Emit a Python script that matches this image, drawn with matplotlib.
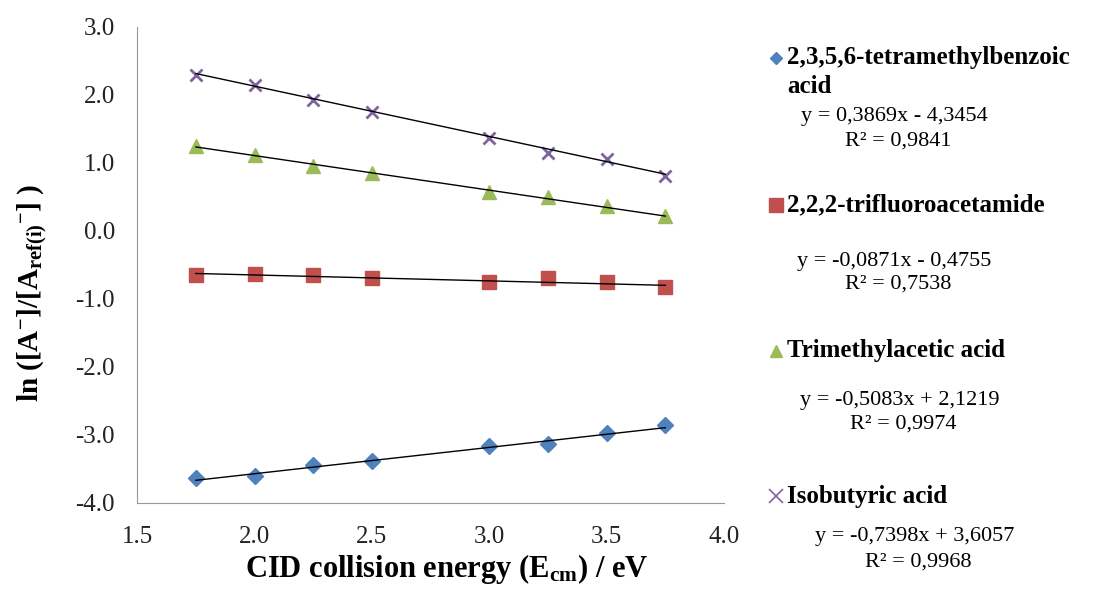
import numpy as np
import matplotlib
matplotlib.use("Agg")
import matplotlib.pyplot as plt

plt.rcParams["font.family"] = ["Liberation Serif", "DejaVu Serif"]
plt.rcParams["mathtext.fontset"] = "custom"
plt.rcParams["mathtext.rm"] = "Liberation Serif:bold"
plt.rcParams["mathtext.it"] = "Liberation Serif:bold"
plt.rcParams["mathtext.bf"] = "Liberation Serif:bold"

# collision energies (eV)
energy = [1.75, 2.0, 2.25, 2.5, 3.0, 3.25, 3.5, 3.75]

# ln ratios
tetramethylbenzoic = [-3.63, -3.60, -3.44, -3.39, -3.16, -3.13, -2.98, -2.86]
trifluoroacetamide = [-0.65, -0.63, -0.65, -0.69, -0.76, -0.70, -0.76, -0.83]
trimethylacetic = [1.24, 1.11, 0.95, 0.85, 0.57, 0.49, 0.36, 0.22]
isobutyric = [2.29, 2.14, 1.92, 1.75, 1.37, 1.15, 1.06, 0.81]

names = ["2,3,5,6-tetramethylbenzoic\nacid", "2,2,2-trifluoroacetamide",
         "Trimethylacetic acid", "Isobutyric acid"]
equations = ["y = 0,3869x - 4,3454", "y = -0,0871x - 0,4755",
             "y = -0,5083x + 2,1219", "y = -0,7398x + 3,6057"]
r2_labels = ["R\u00b2 = 0,9841", "R\u00b2 = 0,7538",
             "R\u00b2 = 0,9974", "R\u00b2 = 0,9968"]
slopes = [0.3869, -0.0871, -0.5083, -0.7398]
intercepts = [-4.3454, -0.4755, 2.1219, 3.6057]

series = [tetramethylbenzoic, trifluoroacetamide, trimethylacetic, isobutyric]
colors = ["#4F81BD", "#C0504D", "#9BBB59", "#8064A2"]
markers = ["D", "s", "^", "x"]
msizes = [8.5, 10.5, 10.5, 9]

fig = plt.figure(figsize=(10.97, 5.93), dpi=100)
ax = fig.add_axes([0.125, 0.152, 0.535, 0.803])

x = np.array(energy)
for ys, c, m, ms, k, b in zip(series, colors, markers, msizes, slopes, intercepts):
    ax.plot(x, k * x + b, color="black", lw=1.0, zorder=3)
    if m == "x":
        ax.plot(x, ys, ls="none", marker=m, ms=ms, mew=2, color=c, zorder=2)
    else:
        ax.plot(x, ys, ls="none", marker=m, ms=ms, color=c, mec=c, zorder=2)

ax.set_xlim(1.5, 4.0)
ax.set_ylim(-4.0, 3.0)
ax.set_xticks(np.arange(1.5, 4.01, 0.5))
ax.set_yticks(np.arange(-4.0, 3.01, 1.0))
ax.xaxis.set_major_formatter(matplotlib.ticker.FormatStrFormatter("%.1f"))
ax.yaxis.set_major_formatter(matplotlib.ticker.FormatStrFormatter("%.1f"))
ax.tick_params(length=0, labelsize=18, colors="#222222")
ax.tick_params(axis="x", pad=17)
ax.tick_params(axis="y", pad=16)
for s in ["top", "right"]:
    ax.spines[s].set_visible(False)
for s in ["left", "bottom"]:
    ax.spines[s].set_color("#999999")

ax.set_xlabel(r"CID collision energy (E$_{\mathrm{cm}}$) / eV",
              fontsize=22, fontweight="bold")
ax.set_ylabel(r"ln ([A$^{-}$]/[A$_{\mathrm{ref(i)}}$$^{-}$] )",
              fontsize=21, fontweight="bold")
ax.xaxis.set_label_coords(0.527, -0.104)
ax.yaxis.set_label_coords(-0.151, 0.44)

W, H = 1097, 593


def fx(px):
    return px / W


def fy(py):
    return 1 - py / H


# legend entries: (marker y, name y, eq x, eq y, r2 x, r2 y)
layout = [
    (58, 72, 801, 117, 845, 141),
    (205, 205, 797, 261, 845, 284),
    (351, 351, 800, 401, 850, 424),
    (496, 496, 815, 537, 865, 562),
]
for i, (my, ny, ex, ey, rx, ry) in enumerate(layout):
    m = markers[i]
    if m == "x":
        fig.lines.append(plt.Line2D([fx(776)], [fy(my)], transform=fig.transFigure,
                                    marker=m, ms=10, mew=1.2, color=colors[i], ls="none"))
    else:
        fig.lines.append(plt.Line2D([fx(776)], [fy(my)], transform=fig.transFigure,
                                    marker=m, ms=[6.5, 10, 9, 9][i], color=colors[i], ls="none"))
    fig.text(fx(787), fy(ny), names[i], fontsize=18, fontweight="bold",
             va="center", ha="left", linespacing=1.3)
    fig.text(fx(ex), fy(ey), equations[i], fontsize=16, va="center", ha="left")
    fig.text(fx(rx), fy(ry), r2_labels[i], fontsize=16, va="center", ha="left")

fig.savefig("out.png", dpi=100)
